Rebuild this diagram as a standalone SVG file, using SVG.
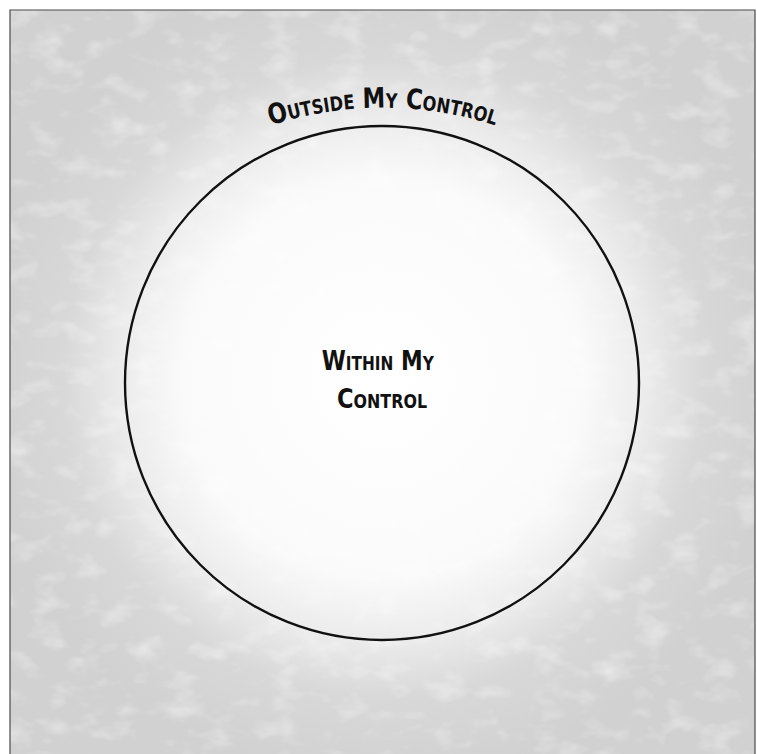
<svg xmlns="http://www.w3.org/2000/svg" width="757" height="754" viewBox="0 0 757 754">
  <defs>
    <radialGradient id="glow" cx="383" cy="378" r="400" gradientUnits="userSpaceOnUse">
      <stop offset="0" stop-color="#ffffff"/>
      <stop offset="0.5" stop-color="#fafafa"/>
      <stop offset="0.66" stop-color="#ebebeb"/>
      <stop offset="0.8" stop-color="#d8d8d8"/>
      <stop offset="1" stop-color="#d1d1d1"/>
    </radialGradient>
    <filter id="grain" x="0" y="0" width="100%" height="100%">
      <feTurbulence type="fractalNoise" baseFrequency="0.03 0.05" numOctaves="3" seed="4" result="n"/>
      <feColorMatrix in="n" type="matrix" values="0 0 0 0 1  0 0 0 0 1  0 0 0 0 1  0 0 0 -0.9 0.45" result="w"/>
      <feComposite in="w" in2="SourceGraphic" operator="in" result="wm"/>
      <feMerge><feMergeNode in="SourceGraphic"/><feMergeNode in="wm"/></feMerge>
    </filter>
    <path id="arcTop" d="M 263 128 A 365 365 0 0 1 503 128"/>
    <style>
      .lbl { font-family: "DejaVu Sans Condensed", "Liberation Sans Narrow", "Liberation Sans", sans-serif; fill: #111; font-variant: small-caps; font-weight: bold; }
    </style>
  </defs>
  <rect x="0" y="0" width="757" height="754" fill="#ffffff"/>
  <g id="background">
    <rect x="10" y="10" width="745" height="745" fill="url(#glow)" filter="url(#grain)"/>
    <path d="M 10 754 L 10 10 L 755 10 L 755 754" fill="none" stroke="#4a4a4a" stroke-width="1.2"/>
  </g>
  <g id="outside">
    <text class="lbl" font-size="28">
      <textPath href="#arcTop" startOffset="50%" text-anchor="middle" textLength="228" lengthAdjust="spacingAndGlyphs">Outside My Control</textPath>
    </text>
  </g>
  <g id="within">
    <circle cx="382" cy="383" r="257" fill="none" stroke="#111" stroke-width="2.4"/>
    <text class="lbl" font-size="27" text-anchor="middle">
      <tspan x="382" y="370" textLength="112" lengthAdjust="spacingAndGlyphs">Within My</tspan>
      <tspan x="382" y="408" textLength="90" lengthAdjust="spacingAndGlyphs">Control</tspan>
    </text>
  </g>
</svg>
